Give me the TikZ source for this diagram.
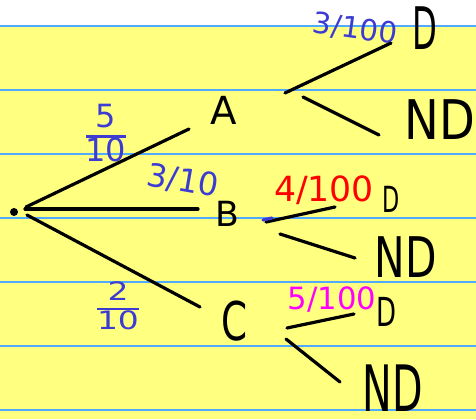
\documentclass[tikz,border=0pt]{standalone}
\usepackage{fontspec}
\setmainfont{DejaVu Sans}
\usetikzlibrary{calc}

\definecolor{paper}{RGB}{255,255,128}
\definecolor{ruling}{RGB}{80,170,255}
\definecolor{blueink}{RGB}{60,60,210}
\definecolor{redink}{RGB}{255,0,0}
\definecolor{pinkink}{RGB}{255,0,255}
\setlength{\arrayrulewidth}{2pt}

\tikzset{every picture/.style={line width=0.75pt}}
\tikzset{
  pen/.style={line width=2.4pt, line cap=round},
  hand/.style={inner sep=0.75pt, font=\fontsize{#1}{#1}\selectfont},
}

\begin{document}
\begin{tikzpicture}[x=0.75pt,y=0.75pt,yscale=-1,xscale=1]
\useasboundingbox (0,0) rectangle (476,419);

%Paper
\fill[white] (0,0) rectangle (476,419);
\fill[paper] (0,26) rectangle (476,419);
\foreach \y in {26,90,...,410}
  \draw[ruling, line width=1.1pt] (0,\y) -- (476,\y);

%Root
\draw (14,212) node (root) [circle, fill, inner sep=0pt, minimum size=6pt] {};

% Text Node
\draw (224,110) node (A) [hand=29] {A};
% Text Node
\draw (227,214) node (B) [hand=26] {B};
% Text Node
\draw (235,321) node (C) [hand=40, xscale=0.7] {C};
% Text Node
\draw (425,28) node (AD) [hand=44, xscale=0.55] {D};
% Text Node
\draw (440,120) node (AND) [hand=41, xscale=0.85] {ND};
% Text Node
\draw (391,199) node (BD) [hand=27, xscale=0.62] {D};
% Text Node
\draw (406,257) node (BND) [hand=42, xscale=0.73] {ND};
% Text Node
\draw (387,312) node (CD) [hand=30, xscale=0.65] {D};
% Text Node
\draw (393,388) node (CND) [hand=48, xscale=0.62] {ND};

% Probabilities
\draw (106,137) node (pA) [inner sep=0.75pt, font=\fontsize{24}{20}\selectfont, text=blueink] {\begin{tabular}{@{}c@{}}5\\\hline 10\end{tabular}};
\draw (183,181) node (pB) [hand=24, text=blueink, rotate=-10] {3/10};
\draw (118,309) node (pC) [inner sep=0.75pt, font=\fontsize{19}{17}\selectfont, text=blueink, xscale=1.3] {\begin{tabular}{@{}c@{}}2\\\hline 10\end{tabular}};
\draw (355,29) node (pAD) [hand=22, text=blueink, rotate=-8] {3/100};
\draw (324,190) node (pBD) [hand=26, text=redink] {4/100};
\draw (332,300) node (pCD) [hand=23, text=pinkink] {5/100};

% Branches
\draw[pen] ($(root)+(12,-5)$) -- ($(A)+(-35,19)$);
\draw[pen] ($(root)+(11,-3)$) -- ($(B)+(-29,-5)$);
\draw[pen] ($(root)+(13,3)$) -- ($(C)+(-35,-14)$);
\draw[pen] ($(A)+(61,-17)$) -- ($(AD)+(-34,15)$);
\draw[pen] ($(A)+(79,-13)$) -- ($(AND)+(-61,15)$);
\draw[pen] ($(B)+(39,8)$) -- ($(BD)+(-56,8)$);
\draw[pen] ($(B)+(53,20)$) -- ($(BND)+(-51,1)$);
\draw[pen] ($(C)+(52,7)$) -- ($(CD)+(-33,2)$);
\draw[pen] ($(C)+(51,18)$) -- ($(CND)+(-53,-6)$);
\draw[pen, blueink] (263,220) -- (272,218);

\end{tikzpicture}
\end{document}
